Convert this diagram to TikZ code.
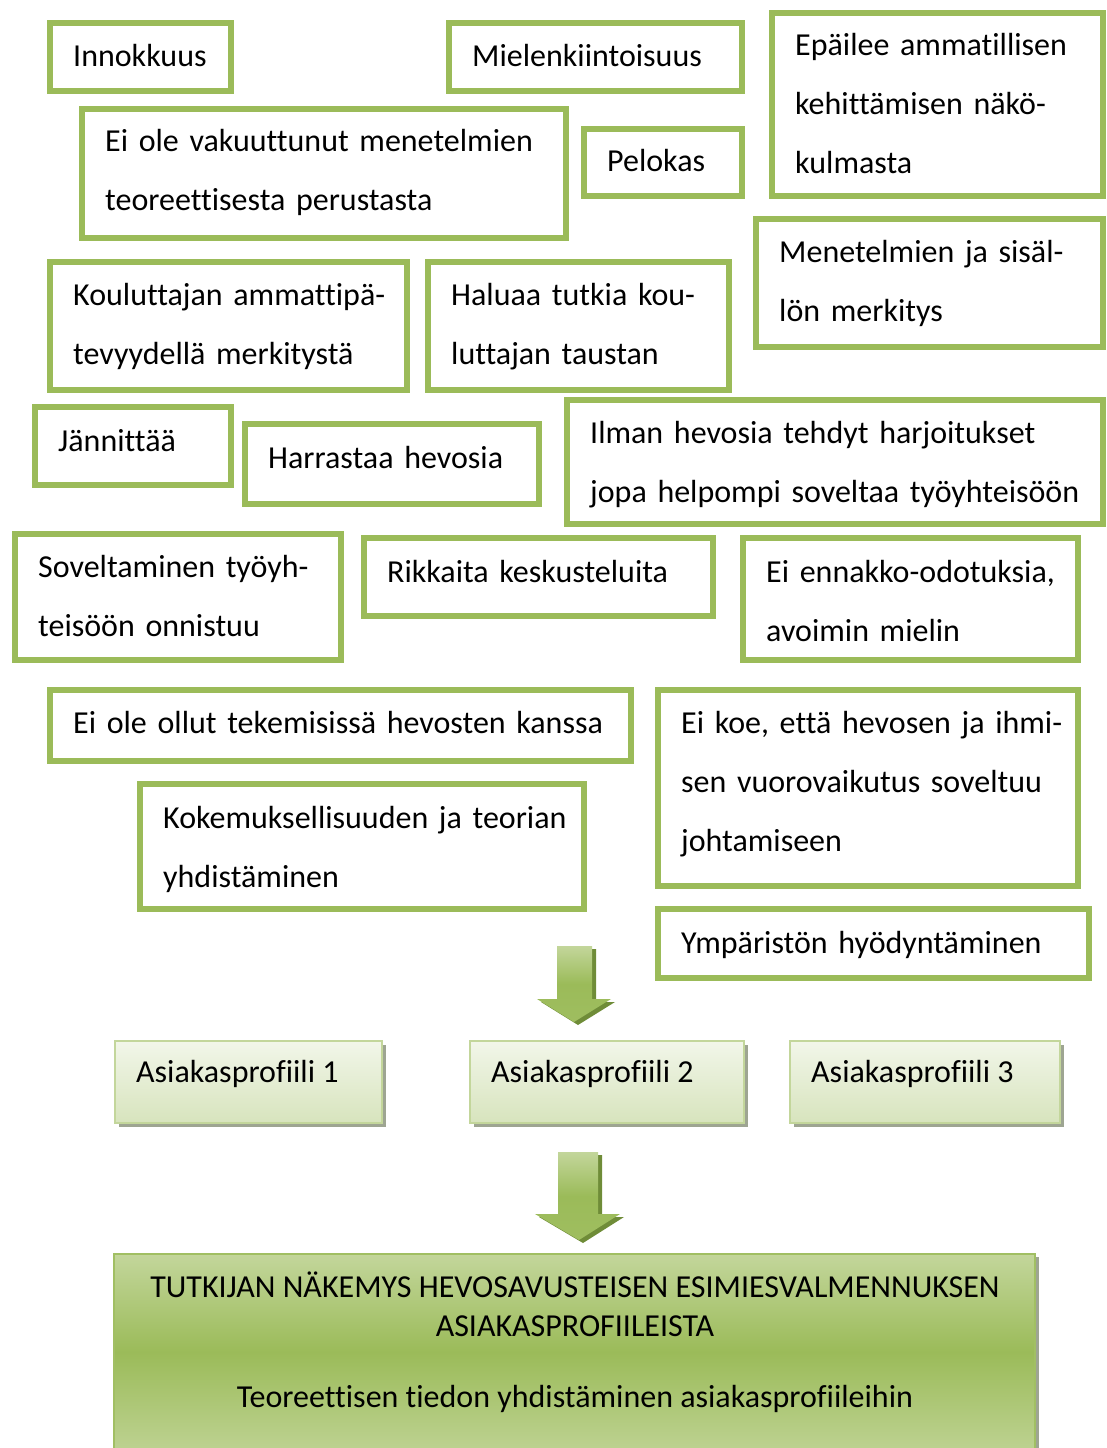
\documentclass[tikz,border=0pt]{standalone}
\usepackage{fontspec}
\setmainfont[Ligatures={NoCommon}]{Carlito}
\definecolor{gborder}{HTML}{9BBB59}
\definecolor{glight}{HTML}{C3D69B}
\definecolor{gpale}{HTML}{D7E4BD}
\definecolor{gwhite}{HTML}{F2F6E9}
\definecolor{gdark}{HTML}{6F8C38}
\definecolor{gshadow}{HTML}{9EA592}
\tikzset{
  gframe/.style={draw=gborder, line width=6pt, fill=white, inner sep=0pt, outer sep=0pt},
  gtext/.style={font=\fontsize{32}{59}\selectfont, inner sep=0pt, align=left, anchor=base west},
  pframe/.style={draw=glight, line width=2pt, top color=gwhite, bottom color=gpale, inner sep=0pt, outer sep=0pt, anchor=north west},
  pshadow/.style={fill=gshadow, draw=none, inner sep=0pt, outer sep=0pt, anchor=north west},
  ptext/.style={font=\fontsize{32}{40}\selectfont, inner sep=0pt, anchor=base west},
  ftext/.style={font=\fontsize{32}{40}\selectfont, inner sep=0pt, anchor=base},
  arrowshade/.style={draw=none, top color=glight, bottom color=gborder!90!glight, middle color=gborder},
  arrowshadow/.style={draw=none, fill=gdark},
  finframe/.style={draw=gborder!85!glight, line width=1.5pt, top color=glight, bottom color=glight!85!gborder, middle color=gborder, inner sep=0pt, outer sep=0pt, anchor=north west},
}
\newcommand\gbox[7]{%
  \pgfmathsetmacro\gbW{#4-#2}%
  \pgfmathsetmacro\gbH{#5-#3}%
  \pgfmathsetmacro\gbT{#4-#2-28}%
  \node[gframe, minimum width=\gbW pt, minimum height=\gbH pt, anchor=north west] (#1) at (#2,#3) {};
  \node[gtext, text width=\gbT pt] (#1-t) at (#2+23,#6) {#7};
}
\newcommand\pbox[6]{%
  \pgfmathsetmacro\gbW{#4-#2}%
  \pgfmathsetmacro\gbH{#5-#3}%
  \node[pshadow, minimum width=\gbW pt, minimum height=\gbH pt] (#1-s) at (#2+4,#3+4) {};
  \node[pframe, minimum width=\gbW pt, minimum height=\gbH pt] (#1) at (#2,#3) {};
  \node[ptext] (#1-t) at (#2+21,1082) {#6};
}
\begin{document}
\begin{tikzpicture}[x=1pt,y=-1pt]
\useasboundingbox (0,0) rectangle (1106,1448);
\gbox{inn}{50}{23}{231}{91}{66}{Innokkuus}
\gbox{mie}{449}{23}{742}{91}{66}{Mielenkiintoisuus}
\gbox{epa}{772}{13}{1103}{196}{55}{Epäilee ammatillisen\\kehittämisen näkö-\\kulmasta}
\gbox{eio}{82}{109}{566}{238}{151}{Ei ole vakuuttunut menetelmien\\teoreettisesta perustasta}
\gbox{pel}{584}{129}{742}{196}{171}{Pelokas}
\gbox{men}{756}{219}{1103}{347}{262}{Menetelmien ja sisäl-\\lön merkitys}
\gbox{kou}{50}{262}{407}{390}{305}{Kouluttajan ammattipä-\\tevyydellä merkitystä}
\gbox{hal}{428}{262}{729}{390}{305}{Haluaa tutkia kou-\\luttajan taustan}
\gbox{jan}{35}{407}{231}{485}{451}{Jännittää}
\gbox{har}{245}{424}{539}{504}{468}{Harrastaa hevosia}
\gbox{ilm}{567}{400}{1103}{524}{443}{Ilman hevosia tehdyt harjoitukset\\jopa helpompi soveltaa työyhteisöön}
\gbox{sov}{15}{534}{341}{660}{577}{Soveltaminen työyh-\\teisöön onnistuu}
\gbox{rik}{364}{538}{713}{616}{582}{Rikkaita keskusteluita}
\gbox{ein}{743}{538}{1078}{660}{582}{Ei ennakko-odotuksia,\\avoimin mielin}
\gbox{eoo}{50}{690}{631}{761}{733}{Ei ole ollut tekemisissä hevosten kanssa}
\gbox{eik}{658}{690}{1078}{886}{733}{Ei koe, että hevosen ja ihmi-\\sen vuorovaikutus soveltuu\\johtamiseen}
\gbox{kok}{140}{784}{584}{909}{828}{Kokemuksellisuuden ja teorian\\yhdistäminen}
\gbox{ymp}{658}{909}{1089}{978}{953}{Ympäristön hyödyntäminen}
% arrow 1
\fill[arrowshadow] (561,949) -- (596,949) -- (596,1002) -- (615,1002) -- (578,1025) -- (541,1002) -- (561,1002) -- cycle;
\path[arrowshade] (557,946) -- (592,946) -- (592,999) -- (611,999) -- (574,1022) -- (537,999) -- (557,999) -- cycle;
% profiles
\pbox{p1}{115}{1041}{382}{1123}{Asiakasprofiili 1}
\pbox{p2}{470}{1041}{744}{1123}{Asiakasprofiili 2}
\pbox{p3}{790}{1041}{1060}{1123}{Asiakasprofiili 3}
% arrow 2
\fill[arrowshadow] (562,1155) -- (602,1155) -- (602,1217) -- (624,1217) -- (583,1243) -- (539,1217) -- (562,1217) -- cycle;
\path[arrowshade] (558,1152) -- (598,1152) -- (598,1214) -- (620,1214) -- (579,1240) -- (535,1214) -- (558,1214) -- cycle;
% final box
\node[pshadow, minimum width=921pt, minimum height=196pt] (fin-s) at (118,1257) {};
\node[finframe, minimum width=921pt, minimum height=196pt] (fin) at (114,1254) {};
\node[ftext] (fin-t1) at (575,1297) {TUTKIJAN NÄKEMYS HEVOSAVUSTEISEN ESIMIESVALMENNUKSEN};
\node[ftext] (fin-t2) at (575,1336) {ASIAKASPROFIILEISTA};
\node[ftext] (fin-t3) at (575,1407) {Teoreettisen tiedon yhdistäminen asiakasprofiileihin};
\end{tikzpicture}
\end{document}
